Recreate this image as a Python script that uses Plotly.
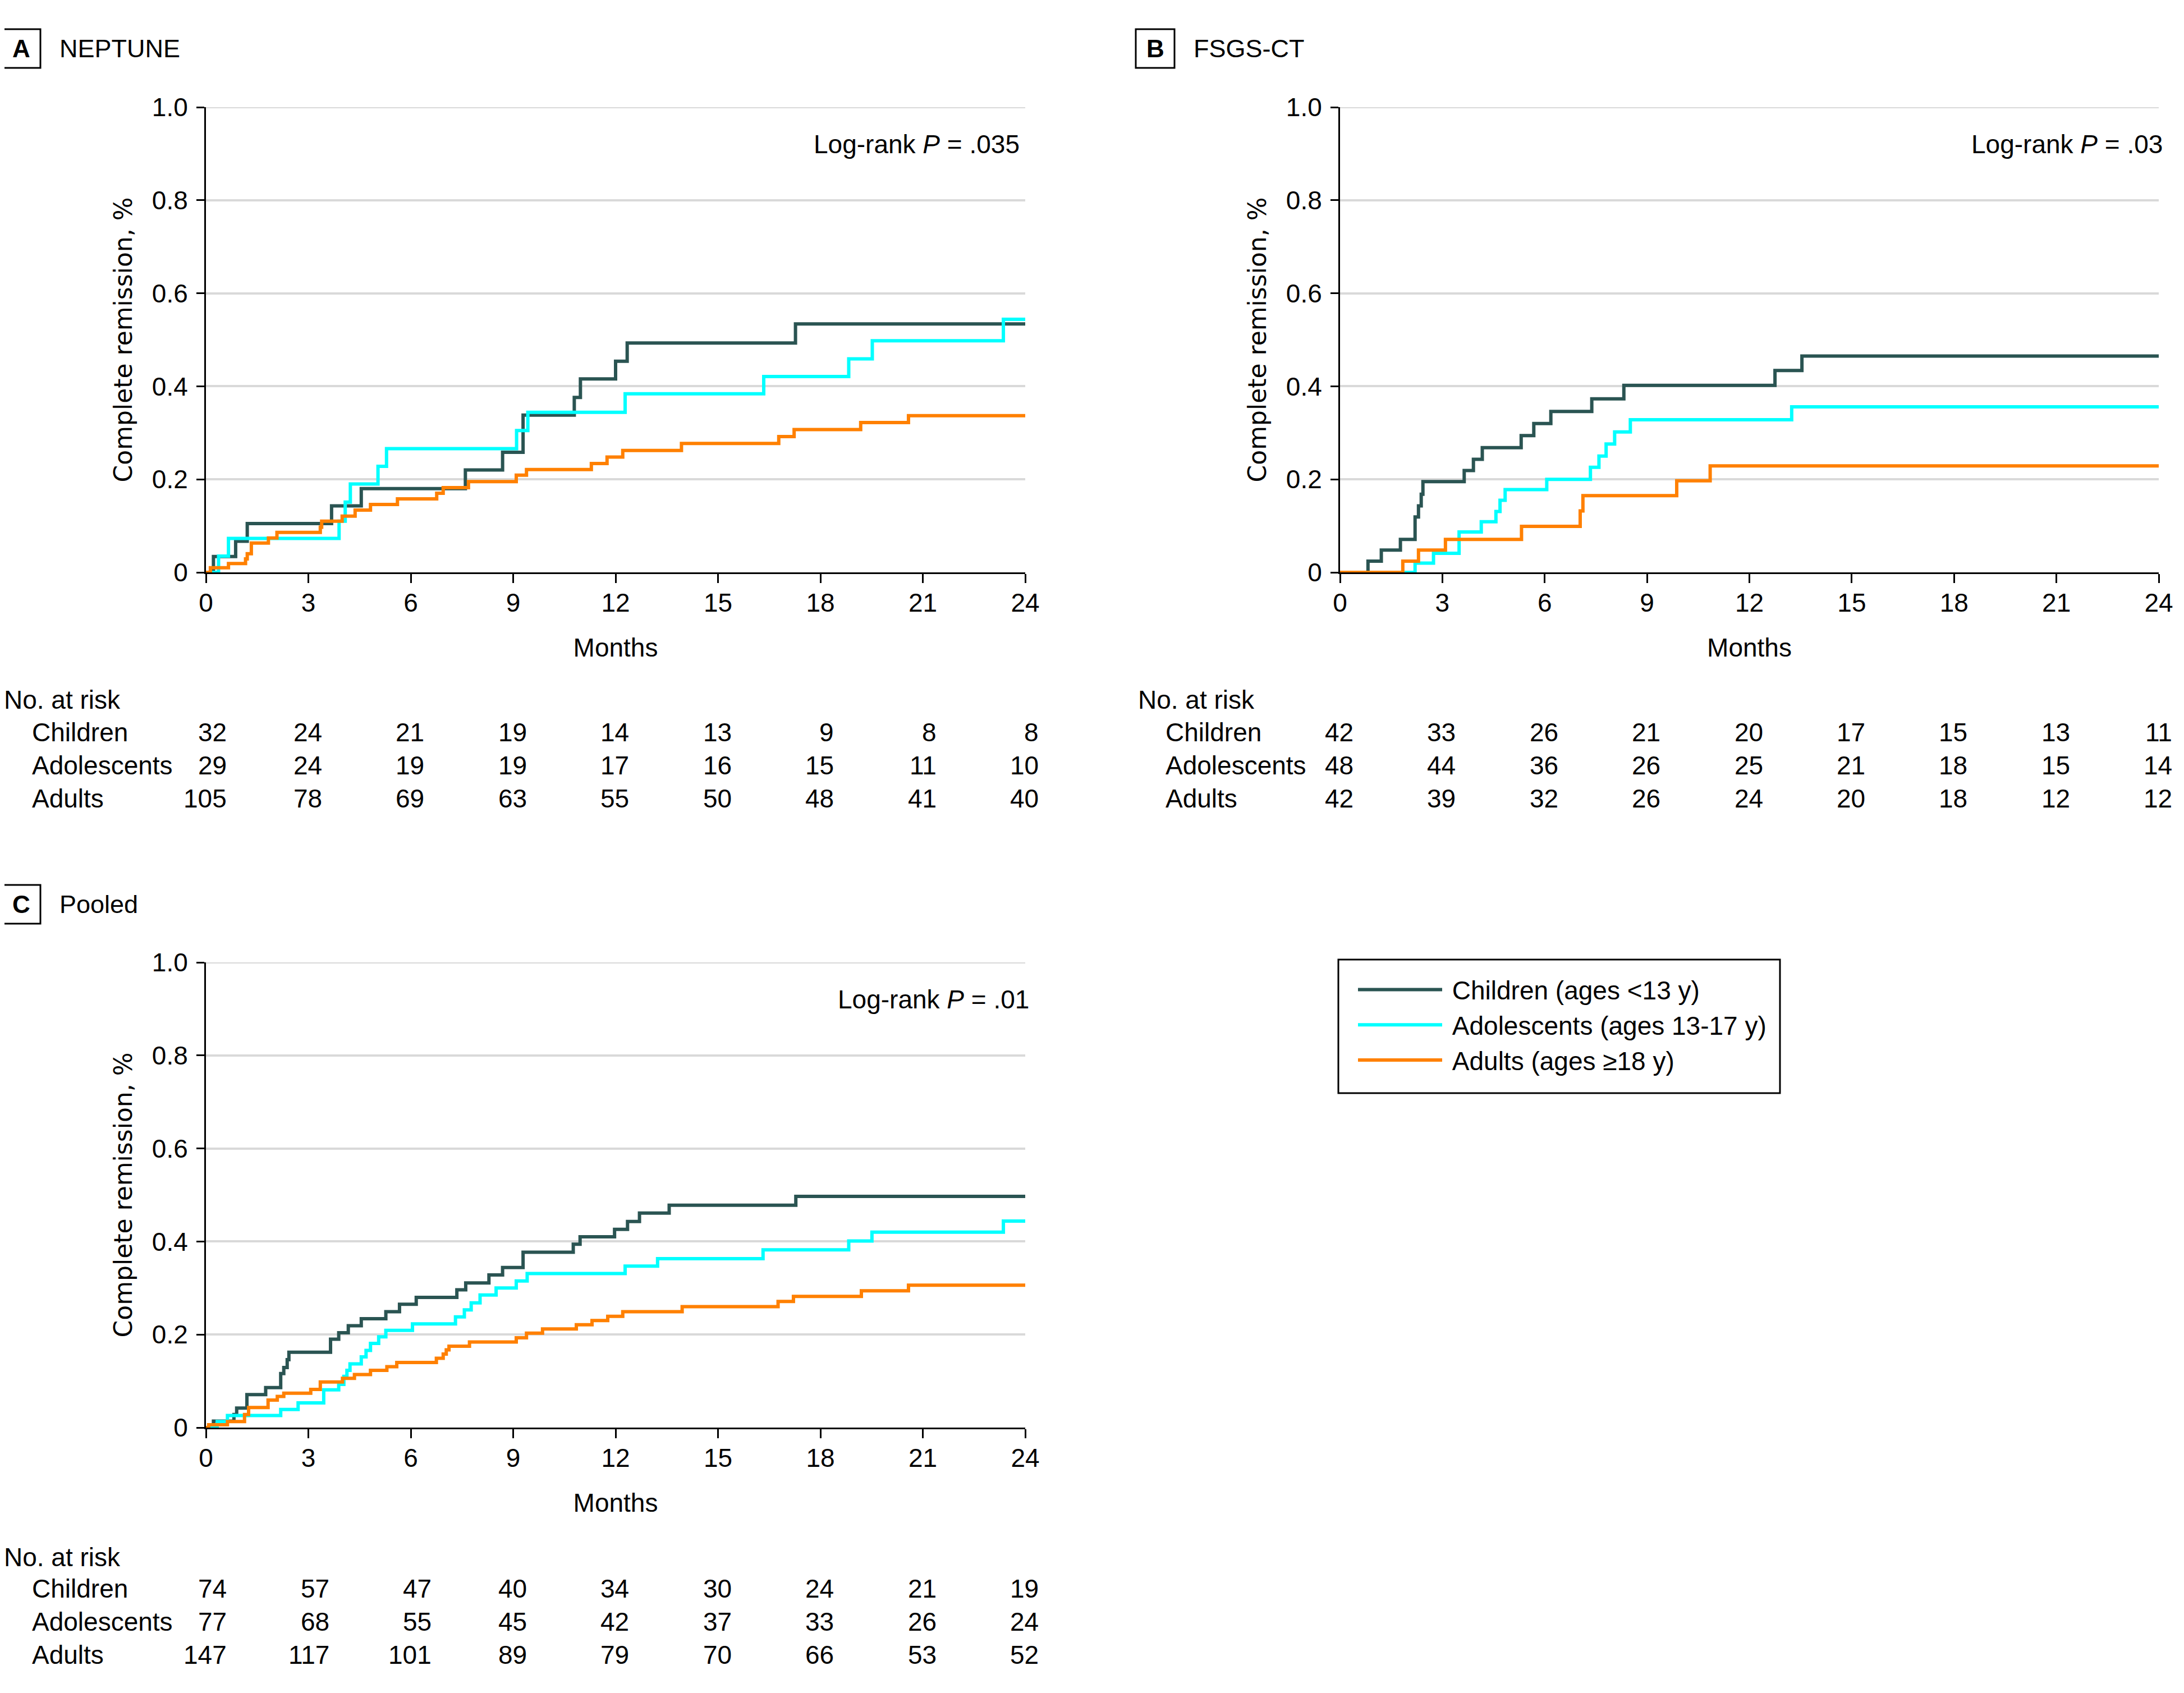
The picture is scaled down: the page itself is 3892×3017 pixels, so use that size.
import plotly.graph_objects as go

W, H = 3892, 3017
OFF = 8  # default page body margin
FW, FH = W - 2 * OFF, H - 2 * OFF
FONT = "Liberation Sans, Arial, sans-serif"
YFONT = "DejaVu Sans, sans-serif"

month_ticks = [0, 3, 6, 9, 12, 15, 18, 21, 24]
y_ticks = [0, 0.2, 0.4, 0.6, 0.8, 1.0]
y_ticktext = ["0", "0.2", "0.4", "0.6", "0.8", "1.0"]

names = ["Children (ages <13 y)", "Adolescents (ages 13-17 y)", "Adults (ages \u226518 y)"]
colors = ["#2A5452", "#00FFFF", "#FF8000"]
row_labels = ["Children", "Adolescents", "Adults"]

# ---------------- Panel A: NEPTUNE ----------------
a_child_t = [0, 0.22, 0.87, 1.21, 3.68, 4.55, 7.6, 8.69, 9.29, 10.79, 10.97, 12.0, 12.34, 17.27, 24]
a_child_s = [0, 0.034, 0.067, 0.105, 0.143, 0.18, 0.22, 0.258, 0.338, 0.376, 0.416, 0.454, 0.493, 0.534, 0.534]
a_adol_t = [0, 0.37, 0.66, 3.9, 4.08, 4.23, 5.04, 5.29, 9.1, 9.43, 12.28, 16.34, 18.83, 19.52, 23.36, 24]
a_adol_s = [0, 0.035, 0.073, 0.11, 0.151, 0.19, 0.228, 0.266, 0.305, 0.344, 0.384, 0.421, 0.459, 0.498, 0.544, 0.544]
a_adult_t = [0, 0.13, 0.66, 1.16, 1.21, 1.33, 1.83, 2.08, 3.35, 3.39, 3.99, 4.37, 4.82, 5.61, 6.76,
             6.95, 7.69, 9.09, 9.39, 11.29, 11.75, 12.21, 13.93, 16.78, 17.23, 19.18, 20.58, 24]
a_adult_s = [0, 0.01, 0.019, 0.029, 0.04, 0.063, 0.074, 0.086, 0.097, 0.11, 0.121, 0.134, 0.146, 0.158, 0.17,
             0.182, 0.195, 0.209, 0.221, 0.234, 0.248, 0.262, 0.277, 0.292, 0.307, 0.322, 0.337, 0.337]

# ---------------- Panel B: FSGS-CT ----------------
b_child_t = [0, 0.82, 1.21, 1.77, 2.2, 2.3, 2.38, 2.43, 3.64, 3.91, 4.17, 5.31, 5.68, 6.18, 7.38, 8.32, 12.75, 13.54, 24]
b_child_s = [0, 0.024, 0.048, 0.071, 0.119, 0.143, 0.168, 0.195, 0.219, 0.243, 0.268, 0.294, 0.32, 0.346, 0.373, 0.402, 0.434, 0.465, 0.465]
b_adol_t = [0, 2.2, 2.74, 3.49, 4.14, 4.57, 4.69, 4.84, 6.06, 7.34, 7.59, 7.8, 8.05, 8.51, 13.24, 24]
b_adol_s = [0, 0.02, 0.041, 0.087, 0.109, 0.131, 0.155, 0.178, 0.2, 0.226, 0.25, 0.276, 0.302, 0.328, 0.356, 0.356]
b_adult_t = [0, 1.84, 2.3, 3.09, 5.32, 7.04, 7.12, 9.87, 10.85, 24]
b_adult_s = [0, 0.024, 0.048, 0.071, 0.099, 0.132, 0.165, 0.197, 0.229, 0.229]

# ---------------- Panel C: Pooled ----------------
c_child_t = [0, 0.22, 0.82, 0.9, 1.2, 1.75, 2.19, 2.28, 2.38, 2.43, 3.65, 3.89, 4.17, 4.55, 5.27, 5.67,
             6.16, 7.35, 7.61, 8.29, 8.69, 9.29, 10.76, 10.96, 11.97, 12.35, 12.7, 13.57, 17.28, 24]
c_child_s = [0, 0.014, 0.028, 0.042, 0.071, 0.086, 0.116, 0.129, 0.146, 0.162, 0.19, 0.204, 0.219, 0.234, 0.249, 0.265,
             0.28, 0.296, 0.311, 0.328, 0.344, 0.377, 0.394, 0.41, 0.426, 0.443, 0.461, 0.478, 0.497, 0.497]
c_adol_t = [0, 0.33, 0.63, 2.19, 2.7, 3.45, 3.89, 4.04, 4.13, 4.22, 4.55, 4.69, 4.82, 5.06, 5.27, 6.05,
            7.31, 7.57, 7.77, 8.03, 8.5, 9.09, 9.41, 12.28, 13.23, 16.32, 18.83, 19.51, 23.36, 24]
c_adol_s = [0, 0.013, 0.026, 0.039, 0.053, 0.081, 0.093, 0.11, 0.123, 0.137, 0.152, 0.166, 0.181, 0.195, 0.209, 0.223,
            0.238, 0.253, 0.268, 0.285, 0.3, 0.315, 0.331, 0.347, 0.363, 0.382, 0.401, 0.42, 0.444, 0.444]
c_adult_t = [0, 0.08, 0.63, 1.13, 1.25, 1.82, 2.09, 2.28, 3.07, 3.35, 4.0, 4.35, 4.82, 5.3, 5.59, 6.75,
             6.95, 7.04, 7.12, 7.72, 9.09, 9.39, 9.86, 10.85, 11.31, 11.77, 12.21, 13.95, 16.76, 17.21, 19.2, 20.58, 24]
c_adult_s = [0, 0.006, 0.013, 0.028, 0.043, 0.059, 0.067, 0.074, 0.082, 0.098, 0.106, 0.114, 0.123, 0.131, 0.14, 0.149,
             0.158, 0.167, 0.175, 0.184, 0.193, 0.203, 0.212, 0.221, 0.23, 0.239, 0.249, 0.26, 0.271, 0.282, 0.294, 0.306, 0.306]

# ---------------- Numbers at risk ----------------
a_risk_children = [32, 24, 21, 19, 14, 13, 9, 8, 8]
a_risk_adol = [29, 24, 19, 19, 17, 16, 15, 11, 10]
a_risk_adults = [105, 78, 69, 63, 55, 50, 48, 41, 40]
b_risk_children = [42, 33, 26, 21, 20, 17, 15, 13, 11]
b_risk_adol = [48, 44, 36, 26, 25, 21, 18, 15, 14]
b_risk_adults = [42, 39, 32, 26, 24, 20, 18, 12, 12]
c_risk_children = [74, 57, 47, 40, 34, 30, 24, 21, 19]
c_risk_adol = [77, 68, 55, 45, 42, 37, 33, 26, 24]
c_risk_adults = [147, 117, 101, 89, 79, 70, 66, 53, 52]

panel_letters = ["A", "B", "C"]
panel_titles = ["NEPTUNE", "FSGS-CT", "Pooled"]
logrank_texts = ["Log-rank <i>P</i> = .035", "Log-rank <i>P</i> = .03", "Log-rank <i>P</i> = .01"]


def px_x(x):
    return (x - OFF) / FW


def px_y(y):
    return 1 - (y - OFF) / FH


fig = go.Figure()

panels = [
    ("x", "y", [(a_child_t, a_child_s), (a_adol_t, a_adol_s), (a_adult_t, a_adult_s)]),
    ("x2", "y2", [(b_child_t, b_child_s), (b_adol_t, b_adol_s), (b_adult_t, b_adult_s)]),
    ("x3", "y3", [(c_child_t, c_child_s), (c_adol_t, c_adol_s), (c_adult_t, c_adult_s)]),
]

NB = "\u00a0"
for pi, (xa, ya, series) in enumerate(panels):
    for si, (t, s) in enumerate(series):
        fig.add_trace(go.Scatter(
            x=t, y=s, mode="lines", line=dict(shape="hv", color=colors[si], width=6),
            name=NB + names[si] + NB * 2, legendgroup=names[si], showlegend=(pi == 0),
            xaxis=xa, yaxis=ya, hoverinfo="skip"))

# geometry (pixels in the final screenshot)
plot_x = [(367, 1827), (2388, 3847), (367, 1827)]
plot_y = [(191, 1020), (191, 1020), (1715, 2544)]

axis_common_x = dict(range=[0, 24], tickvals=month_ticks, ticks="outside", ticklen=16, tickwidth=3,
                     tickcolor="black", showline=True, linewidth=3, linecolor="black", showgrid=False,
                     zeroline=False, automargin=False, ticklabelstandoff=-4,
                     tickfont=dict(family=FONT, size=46, color="black"),
                     title=dict(text="Months", font=dict(family=FONT, size=46, color="black"), standoff=39),
                     fixedrange=True)
axis_common_y = dict(range=[0, 1], tickvals=y_ticks, ticktext=y_ticktext, ticks="outside", ticklen=14,
                     tickwidth=3, tickcolor="black", showline=True, linewidth=3, linecolor="black",
                     showgrid=True, gridcolor="#D9D9D9", gridwidth=4, zeroline=False, automargin=False,
                     ticklabelstandoff=6,
                     tickfont=dict(family=FONT, size=46, color="black"),
                     title=dict(text="Complete remission, %", font=dict(family=YFONT, size=44, color="black"),
                                standoff=22),
                     fixedrange=True)

layout = dict(template="none", width=FW, height=FH, margin=dict(l=0, r=0, t=0, b=0, pad=0),
              paper_bgcolor="white", plot_bgcolor="white", showlegend=True,
              font=dict(family=FONT, size=46, color="black"))
for i in range(3):
    sx = "" if i == 0 else str(i + 1)
    layout["xaxis" + sx] = dict(axis_common_x, domain=[px_x(plot_x[i][0]), px_x(plot_x[i][1])],
                                anchor="y" + sx)
    layout["yaxis" + sx] = dict(axis_common_y, domain=[px_y(plot_y[i][1]), px_y(plot_y[i][0])],
                                anchor="x" + sx)
fig.update_layout(**layout)

fig.update_layout(legend=dict(
    x=px_x(2415), y=px_y(1727), xanchor="left", yanchor="top",
    borderwidth=0, bgcolor="rgba(0,0,0,0)",
    font=dict(family=FONT, size=46, color="black"), itemwidth=150,
    tracegroupgap=12, traceorder="normal"))

annotations = []
shapes = []

# top gridline at 1.0 (grid drawn along the top edge)
for i in range(3):
    sx = "" if i == 0 else str(i + 1)
    shapes.append(dict(type="line", xref="x%s domain" % sx, yref="y" + sx, x0=0, x1=1, y0=1, y1=1,
                       line=dict(color="#D9D9D9", width=4), layer="below"))

# legend frame
shapes.append(dict(type="rect", xref="paper", yref="paper", x0=px_x(2385), x1=px_x(3172),
                   y0=px_y(1948), y1=px_y(1710), line=dict(color="black", width=3), layer="below"))

# panel labels
label_boxes = [(4, 52, 72, 121), (2024, 52, 2093, 121), (4, 1577, 72, 1646)]
for i, (x0, y0, x1, y1) in enumerate(label_boxes):
    shapes.append(dict(type="rect", xref="paper", yref="paper", x0=px_x(x0), x1=px_x(x1),
                       y0=px_y(y1), y1=px_y(y0), line=dict(color="black", width=3)))
    annotations.append(dict(xref="paper", yref="paper", x=px_x((x0 + x1) / 2), y=px_y((y0 + y1) / 2),
                            text="<b>%s</b>" % panel_letters[i], showarrow=False, xanchor="center",
                            yanchor="middle", font=dict(family=FONT, size=44, color="black")))
    annotations.append(dict(xref="paper", yref="paper", x=px_x(x1 + 32), y=px_y((y0 + y1) / 2),
                            text=panel_titles[i], showarrow=False, xanchor="left", yanchor="middle",
                            font=dict(family=FONT, size=45, color="black")))

# log-rank annotations
lr_shift = [-8, 9, 9]
for i in range(3):
    sx = "" if i == 0 else str(i + 1)
    annotations.append(dict(xref="x" + sx, yref="paper", x=24, y=px_y(plot_y[i][0] + 66),
                            xshift=lr_shift[i], text=logrank_texts[i], showarrow=False,
                            xanchor="right", yanchor="middle",
                            font=dict(family=FONT, size=46, color="black")))

# numbers at risk
risk_tables = [
    [a_risk_children, a_risk_adol, a_risk_adults],
    [b_risk_children, b_risk_adol, b_risk_adults],
    [c_risk_children, c_risk_adol, c_risk_adults],
]
risk_rows_y = [(1247, 1305, 1364, 1423), (1247, 1305, 1364, 1423), (2775, 2831, 2890, 2949)]
risk_label_x = [(5, 55), (2026, 2075), (5, 55)]
DIGIT_HALF = 13
for i in range(3):
    sx = "" if i == 0 else str(i + 1)
    ys = risk_rows_y[i]
    annotations.append(dict(xref="paper", yref="paper", x=px_x(risk_label_x[i][0]), y=px_y(ys[0]),
                            text="No. at risk", showarrow=False, xanchor="left", yanchor="middle",
                            font=dict(family=FONT, size=46, color="black")))
    table = risk_tables[i]
    for r in range(3):
        annotations.append(dict(xref="paper", yref="paper", x=px_x(risk_label_x[i][1]), y=px_y(ys[r + 1]),
                                text=row_labels[r], showarrow=False, xanchor="left", yanchor="middle",
                                font=dict(family=FONT, size=46, color="black")))
    for j, mt in enumerate(month_ticks):
        maxlen = max(len(str(table[r][j])) for r in range(3))
        for r in range(3):
            annotations.append(dict(xref="x" + sx, yref="paper", x=mt, y=px_y(ys[r + 1]),
                                    xshift=maxlen * DIGIT_HALF, text=str(table[r][j]), showarrow=False,
                                    xanchor="right", yanchor="middle",
                                    font=dict(family=FONT, size=46, color="black")))

fig.update_layout(annotations=annotations, shapes=shapes)
fig.write_html("out.html")
